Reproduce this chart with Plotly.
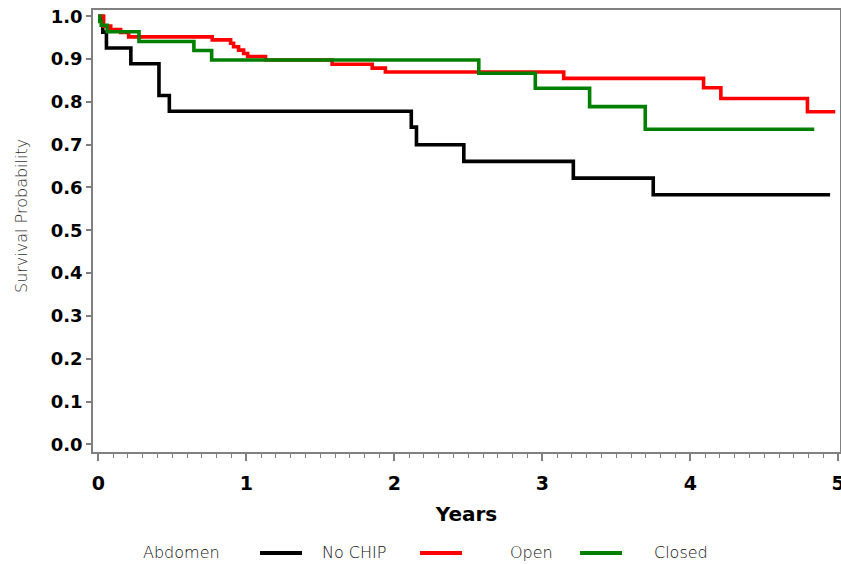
import plotly.graph_objects as go

# Kaplan-Meier survival estimates by abdomen closure group
no_chip_years = [0, 0.03, 0.055, 0.22, 0.41, 0.48, 2.115, 2.15, 2.47, 3.21, 3.75, 4.945]
no_chip_surv = [1.0, 0.963, 0.926, 0.889, 0.815, 0.778, 0.741, 0.700, 0.661, 0.622, 0.583, 0.583]

open_years = [0, 0.036, 0.084, 0.151, 0.205, 0.77, 0.894, 0.914, 0.948, 0.982, 1.009,
              1.13, 1.58, 1.851, 1.94, 3.145, 4.09, 4.207, 4.792, 4.98]
open_surv = [1.0, 0.977, 0.969, 0.962, 0.952, 0.945, 0.937, 0.929, 0.921, 0.913, 0.906,
             0.898, 0.888, 0.879, 0.870, 0.855, 0.833, 0.808, 0.777, 0.777]

closed_years = [0, 0.01, 0.02, 0.06, 0.275, 0.646, 0.766, 2.571, 2.953, 3.32, 3.696, 4.838]
closed_surv = [1.0, 0.988, 0.979, 0.964, 0.941, 0.920, 0.898, 0.867, 0.832, 0.789, 0.736, 0.736]

x_ticks = [0, 1, 2, 3, 4, 5]
y_ticks = [0.0, 0.1, 0.2, 0.3, 0.4, 0.5, 0.6, 0.7, 0.8, 0.9, 1.0]

legend_title = "Abdomen"
groups = [
    ("No CHIP", no_chip_years, no_chip_surv, "#000000"),
    ("Open", open_years, open_surv, "#ff0000"),
    ("Closed", closed_years, closed_surv, "#008000"),
]

fig = go.Figure()
for name, xs, ys, color in groups:
    fig.add_trace(go.Scatter(
        x=xs, y=ys, mode="lines", name=name,
        line=dict(color=color, width=3.6, shape="hv"),
    ))

axis_color = "#808080"
bold_font = "DejaVu Sans, sans-serif"
light_font = "DejaVu Sans ExtraLight, DejaVu Sans Light, DejaVu Sans, sans-serif"

# Legend row below the axis: group title, then a swatch + label for each group
legend_y = -0.2285
swatch_x = [(0.2236, 0.2798), (0.4378, 0.4940), (0.6520, 0.7082)]
label_x = [0.3039, 0.5556, 0.7483]
annotations = [
    dict(text=legend_title, xref="paper", yref="paper", x=0.0636, y=legend_y,
         xanchor="left", yanchor="middle", showarrow=False,
         font=dict(family=light_font, size=16, color="#111111")),
    dict(text="Survival Probability", xref="paper", yref="paper", x=-0.095, y=0.534,
         xanchor="center", yanchor="middle", textangle=-90, showarrow=False,
         font=dict(family=light_font, size=16, color="#333333")),
]
shapes = []
for (name, _, _, color), (x0, x1), lx in zip(groups, swatch_x, label_x):
    shapes.append(dict(type="line", xref="paper", yref="paper", x0=x0, x1=x1,
                       y0=legend_y, y1=legend_y, line=dict(color=color, width=4)))
    annotations.append(dict(text=name, xref="paper", yref="paper", x=lx, y=legend_y,
                            xanchor="left", yanchor="middle", showarrow=False,
                            font=dict(family=light_font, size=16, color="#111111")))

fig.update_layout(
    width=841, height=564,
    margin=dict(l=93, r=1, t=10, b=112),
    paper_bgcolor="white", plot_bgcolor="white",
    showlegend=False,
    annotations=annotations,
    shapes=shapes,
    xaxis=dict(
        range=[-0.0358, 5.012], tickvals=x_ticks, ticktext=[str(v) for v in x_ticks],
        showgrid=False, zeroline=False, automargin=False,
        showline=True, linecolor=axis_color, linewidth=1.6, mirror=True,
        ticks="outside", ticklen=7, tickwidth=1.5, tickcolor=axis_color,
        minor=dict(dtick=0.1, ticks="outside", ticklen=4, tickwidth=1, tickcolor=axis_color),
        tickfont=dict(family=bold_font, size=19, color="#000000", weight="bold"),
        ticklabelstandoff=6, ticklabeloverflow="allow",
        title=dict(text="Years", standoff=14,
                   font=dict(family=bold_font, size=20, color="#000000", weight="bold")),
    ),
    yaxis=dict(
        range=[-0.018, 1.0147], tickvals=y_ticks, ticktext=[f"{v:.1f}" for v in y_ticks],
        showgrid=False, zeroline=False, automargin=False,
        showline=True, linecolor=axis_color, linewidth=1.6, mirror=True,
        ticks="outside", ticklen=5, tickwidth=1.5, tickcolor=axis_color,
        tickfont=dict(family=bold_font, size=18, color="#000000", weight="bold"),
    ),
)

fig.write_html("out.html")
